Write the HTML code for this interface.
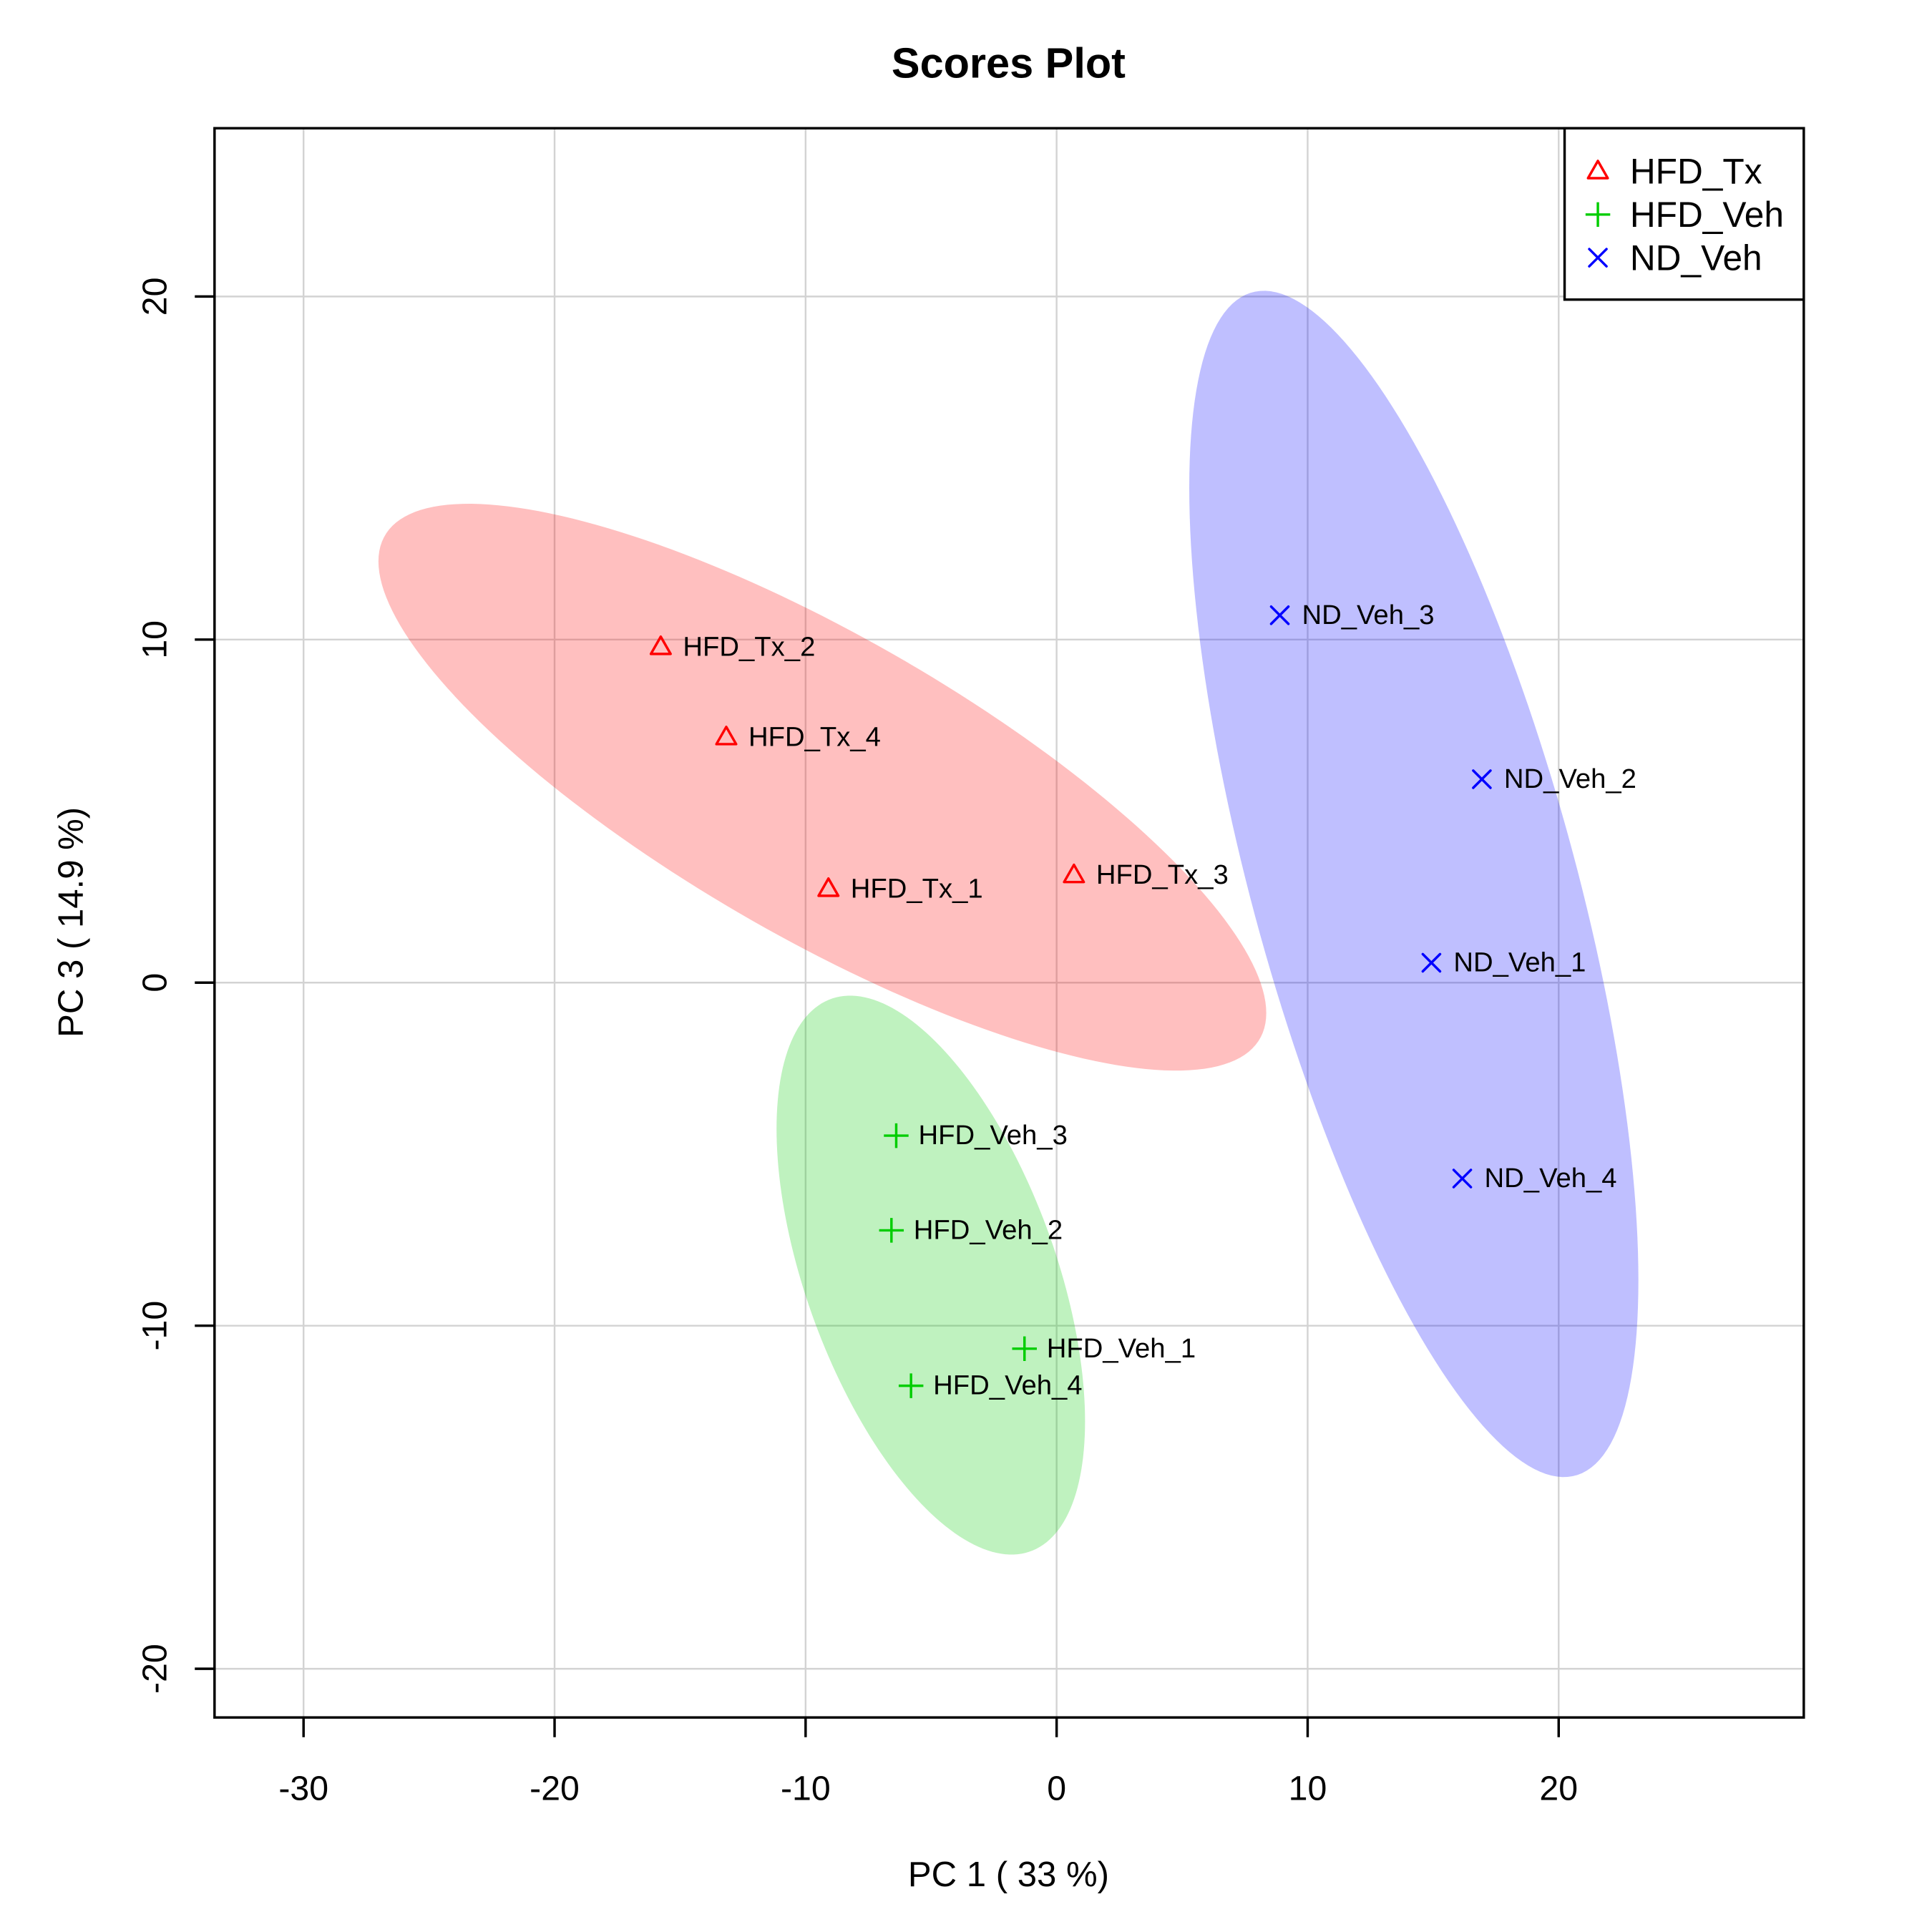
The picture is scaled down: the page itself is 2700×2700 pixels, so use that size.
<!DOCTYPE html>
<html><head><meta charset="utf-8"><title>Scores Plot</title>
<style>html,body{margin:0;padding:0;background:#fff}svg{display:block}</style></head>
<body>
<svg id="chart" xmlns="http://www.w3.org/2000/svg" width="2700" height="2700" viewBox="0 0 1567 1567" font-family="'Liberation Sans', Arial, sans-serif">
<rect x="0" y="0" width="1567" height="1567" fill="#fff"/>
<g id="grid"></g>
<g id="ellipses"></g>
<g id="points"></g>
<g id="axes"></g>
</svg>
<script>
const groups = ["HFD_Tx","HFD_Veh","ND_Veh"];
const sampleNames = ["HFD_Tx_1","HFD_Tx_2","HFD_Tx_3","HFD_Tx_4","HFD_Veh_1","HFD_Veh_2","HFD_Veh_3","HFD_Veh_4","ND_Veh_1","ND_Veh_2","ND_Veh_3","ND_Veh_4"];
const sampleGroup = [0,0,0,0,1,1,1,1,2,2,2,2];
const pc1 = [-9.09,-15.77,0.69,-13.16,-1.28,-6.58,-6.39,-5.80,14.93,16.94,8.89,16.16];
const pc3 = [2.73,9.78,3.13,7.15,-10.67,-7.22,-4.46,-11.75,0.58,5.93,10.71,-5.71];
const xTicks = [-30,-20,-10,0,10,20];
const yTicks = [-20,-10,0,10,20];
const groupColors = ["#FF0000","#00CD00","#0000FF"];

const NS="http://www.w3.org/2000/svg";
const L=174,R=1463,T=104,B=1393;
const X=v=>857+v*20.36;
const Y=v=>797-v*27.825;
function mk(tag,attrs,parent,text){const e=document.createElementNS(NS,tag);for(const k in attrs)e.setAttribute(k,attrs[k]);if(text!==undefined)e.textContent=text;parent.appendChild(e);return e;}
const svg=document.getElementById('chart');
const grid=document.getElementById('grid'),ell=document.getElementById('ellipses'),pts=document.getElementById('points'),axes=document.getElementById('axes');

xTicks.forEach(t=>{const l=mk('line',{x1:X(t),x2:X(t),y1:T,y2:B,stroke:'#D3D3D3','stroke-width':1.4},grid);

});
yTicks.forEach(t=>{const l=mk('line',{x1:L,x2:R,y1:Y(t),y2:Y(t),stroke:'#D3D3D3','stroke-width':1.4},grid);

});

const k=Math.sqrt(5.991);
groups.forEach((g,gi)=>{
  const xs=[],ys=[];sampleGroup.forEach((s,i)=>{if(s===gi){xs.push(pc1[i]);ys.push(pc3[i]);}});
  const n=xs.length,mx=xs.reduce((a,b)=>a+b)/n,my=ys.reduce((a,b)=>a+b)/n;
  let sxx=0,syy=0,sxy=0;for(let i=0;i<n;i++){sxx+=(xs[i]-mx)**2;syy+=(ys[i]-my)**2;sxy+=(xs[i]-mx)*(ys[i]-my);}
  sxx/=n-1;syy/=n-1;sxy/=n-1;
  const a=Math.sqrt(sxx),b=sxy/a,c=Math.sqrt(Math.max(syy-b*b,0));
  let d='';for(let j=0;j<=200;j++){const th=j/200*2*Math.PI,u=Math.cos(th),v=Math.sin(th);
    const px=mx+k*a*u,py=my+k*(b*u+c*v);d+=(j?'L':'M')+X(px).toFixed(2)+','+Y(py).toFixed(2);}
  const p=mk('path',{d:d+'Z',fill:groupColors[gi],'fill-opacity':0.25},ell);
  
  
});

function marker(gi,cx,cy,parent,name){
  const col=groupColors[gi];let e;
  if(gi===0){e=mk('path',{d:`M${cx},${cy-8.5}L${cx+8},${cy+5.5}L${cx-8},${cy+5.5}Z`,fill:'none',stroke:col,'stroke-width':2,'stroke-linejoin':'round'},parent);}
  else if(gi===1){e=mk('path',{d:`M${cx-10},${cy}H${cx+10}M${cx},${cy-10}V${cy+10}`,stroke:col,'stroke-width':2,fill:'none'},parent);}
  else {e=mk('path',{d:`M${cx-7},${cy-7}L${cx+7},${cy+7}M${cx-7},${cy+7}L${cx+7},${cy-7}`,stroke:col,'stroke-width':2,fill:'none','stroke-linecap':'round'},parent);}
  
  
}
sampleNames.forEach((s,i)=>{
  const cx=X(pc1[i]),cy=Y(pc3[i]);
  marker(sampleGroup[i],cx,cy,pts,'point-'+s.toLowerCase().replace(/_/g,'-'));
  const t=mk('text',{x:cx+18,y:cy+7,'font-size':22.2,fill:'#000'},pts,s);
  
  
});

const box=mk('rect',{x:L,y:T,width:R-L,height:B-T,fill:'none',stroke:'#000','stroke-width':2},axes);


xTicks.forEach(t=>{mk('line',{x1:X(t),x2:X(t),y1:B,y2:B+16,stroke:'#000','stroke-width':2},axes);
  const tx=mk('text',{x:X(t),y:1460,'font-size':28,'text-anchor':'middle'},axes,String(t));
  
  });
yTicks.forEach(t=>{mk('line',{x1:L-16,x2:L,y1:Y(t),y2:Y(t),stroke:'#000','stroke-width':2},axes);
  const tx=mk('text',{x:0,y:0,'font-size':28,'text-anchor':'middle',transform:`translate(135,${Y(t)}) rotate(-90)`},axes,String(t));
  
  });
const title=mk('text',{x:818,y:63,'font-size':34.5,'font-weight':'bold','text-anchor':'middle'},axes,'Scores Plot');


const xt=mk('text',{x:818,y:1530,'font-size':28.5,'text-anchor':'middle'},axes,'PC 1 ( 33 %)');


const yt=mk('text',{x:0,y:0,'font-size':28.5,'text-anchor':'middle',transform:'translate(67,748) rotate(-90)'},axes,'PC 3 ( 14.9 %)');



const lg=mk('g',{},axes);


mk('rect',{x:1269,y:104,width:194,height:139,fill:'#fff',stroke:'#000','stroke-width':2},lg);
groups.forEach((g,gi)=>{
  const cy=139+gi*35;
  marker(gi,1296,cy,lg,'legend-marker-'+g.toLowerCase().replace('_','-'));
  const t=mk('text',{x:1322,y:cy+10,'font-size':28.8},lg,g);
  
  
});
</script>
</body></html>
